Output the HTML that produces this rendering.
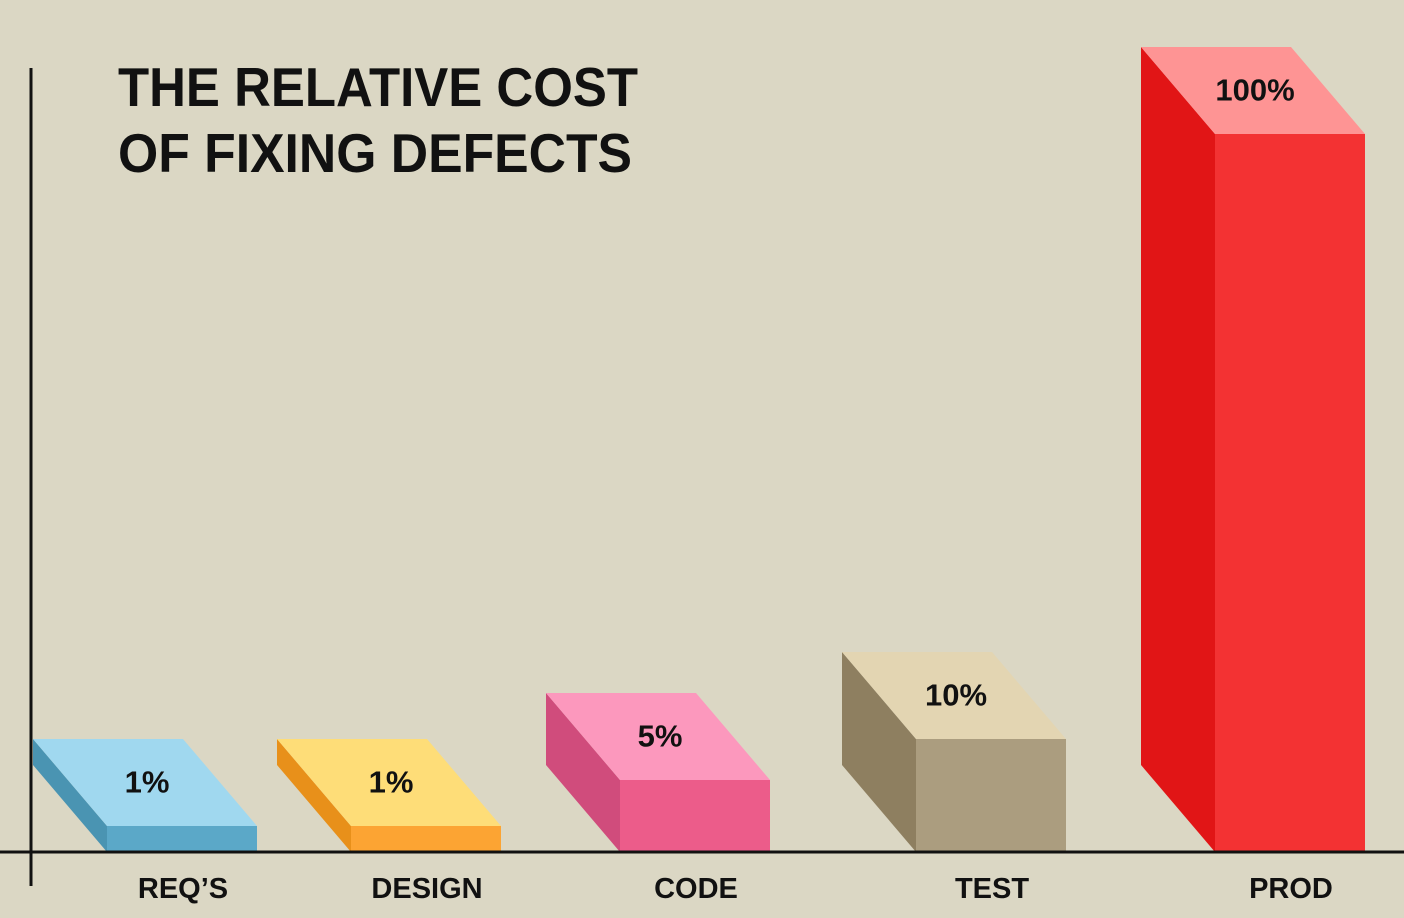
<!DOCTYPE html>
<html><head><meta charset="utf-8"><style>
html,body{margin:0;padding:0;background:#dbd7c4;}
svg{display:block;}
text{font-family:"Liberation Sans",Arial,sans-serif;font-weight:bold;fill:#111;}
</style></head><body>
<svg id="chart" width="1404" height="918" viewBox="0 0 1404 918" xmlns="http://www.w3.org/2000/svg">
<rect x="0" y="0" width="1404" height="918" fill="#dbd7c4"/>
<text x="118" y="106" font-size="55" textLength="520" lengthAdjust="spacingAndGlyphs">THE RELATIVE COST</text>
<text x="118" y="172" font-size="55" textLength="514" lengthAdjust="spacingAndGlyphs">OF FIXING DEFECTS</text>
<g id="bars"></g>
<line x1="31" y1="68" x2="31" y2="886" stroke="#111" stroke-width="3"/>
<line x1="0" y1="852" x2="1404" y2="852" stroke="#111" stroke-width="3"/>
</svg>
<script>
const categories = ["REQ\u2019S","DESIGN","CODE","TEST","PROD"];
const values = [1, 1, 5, 10, 100];
const valueLabels = ["1%","1%","5%","10%","100%"];
const topColors = ["#a0d8ef","#fedd78","#fc98bd","#e3d5b2","#fe9494"];
const frontColors = ["#5ba8c8","#fca433","#ec5c8a","#ab9d7f","#f33233"];
const sideColors = ["#4a94b2","#e8901a","#d04c7c","#8e7f60","#e11516"];
const frontLeft = [107, 351, 620, 916, 1215];

// piecewise axis scale (the picture's heights are not linear)
const scaleDomain = [0, 1, 5, 10, 100];
const scaleRange = [0, 26, 72, 113, 718];
function yHeight(v){
  for(let i=1;i<scaleDomain.length;i++){
    if(v<=scaleDomain[i]){
      const t=(v-scaleDomain[i-1])/(scaleDomain[i]-scaleDomain[i-1]);
      return scaleRange[i-1]+t*(scaleRange[i]-scaleRange[i-1]);
    }
  }
  const n=scaleDomain.length-1;
  return scaleRange[n]*v/scaleDomain[n];
}
const baseY=852, barW=150, dx=74, dy=87;
const NS="http://www.w3.org/2000/svg";
const g=document.getElementById('bars');
function poly(pts,fill,name){
  const p=document.createElementNS(NS,'polygon');
  p.setAttribute('points',pts.map(a=>a.join(',')).join(' '));
  p.setAttribute('fill',fill);
  
  
  g.appendChild(p);
}
categories.forEach((c,i)=>{
  const x=frontLeft[i], h=yHeight(values[i]), yt=baseY-h;
  poly([[x,yt],[x-dx,yt-dy],[x-dx,baseY-dy],[x,baseY]],sideColors[i],'bar-side-'+i);
  poly([[x,yt],[x+barW,yt],[x+barW,baseY],[x,baseY]],frontColors[i],'bar-front-'+i);
  poly([[x-dx,yt-dy],[x-dx+barW,yt-dy],[x+barW,yt],[x,yt]],topColors[i],'bar-top-'+i);
  const vt=document.createElementNS(NS,'text');
  vt.setAttribute('x',x+barW/2-dx/2+2);
  vt.setAttribute('y',yt-dy/2+10);
  vt.setAttribute('text-anchor','middle');
  vt.setAttribute('font-size','31');
  vt.textContent=valueLabels[i];
  
  
  g.appendChild(vt);
  const ct=document.createElementNS(NS,'text');
  ct.setAttribute('x',x+barW/2+1);
  ct.setAttribute('y',898);
  ct.setAttribute('text-anchor','middle');
  ct.setAttribute('font-size','29');
  ct.textContent=c;
  
  
  g.appendChild(ct);
});
</script>
</body></html>
